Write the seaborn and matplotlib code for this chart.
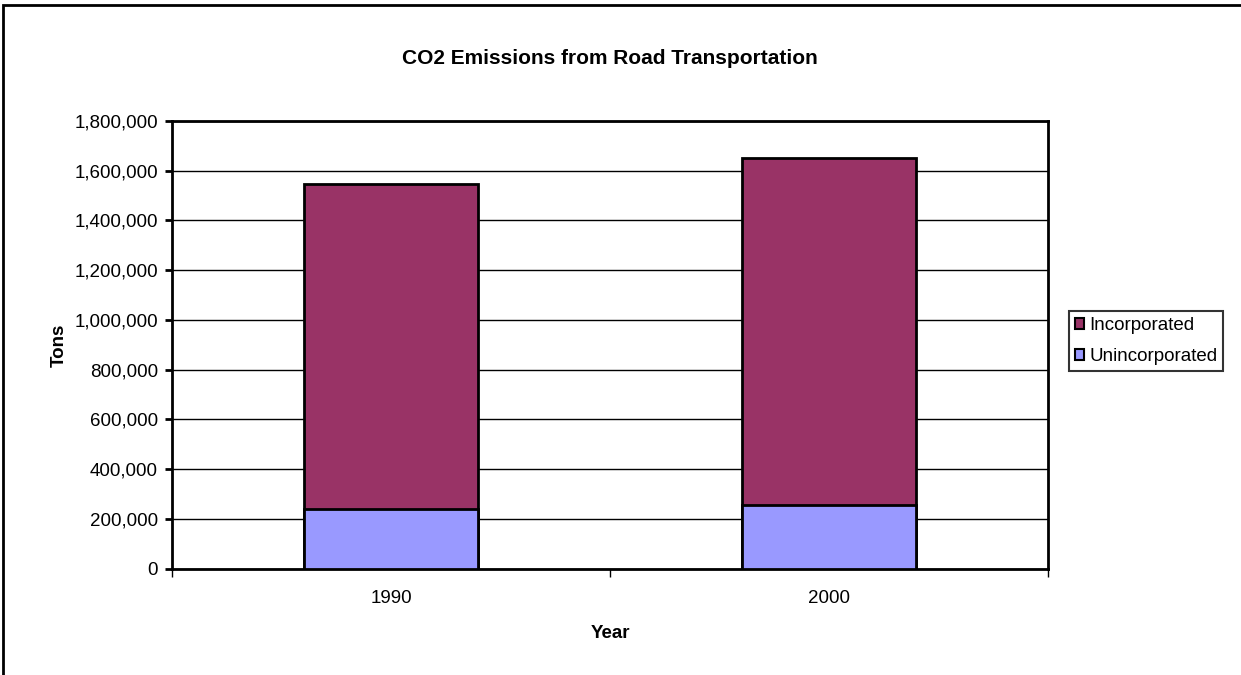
import matplotlib
matplotlib.use("Agg")
import matplotlib.pyplot as plt
import seaborn as sns
import pandas as pd
from matplotlib.patches import Rectangle
from matplotlib.ticker import FuncFormatter

# Data (tons of CO2)
years = ["1990", "2000"]
unincorporated = [240000, 257500]
incorporated = [1306000, 1392000]
series_names = ["Incorporated", "Unincorporated"]
colors = {"Incorporated": "#993366", "Unincorporated": "#9999FF"}

sns.set_theme(style="white")
plt.rcParams["font.family"] = ["Liberation Sans", "DejaVu Sans"]
plt.rcParams["text.color"] = "black"
plt.rcParams["axes.labelcolor"] = "black"
plt.rcParams["xtick.color"] = "black"
plt.rcParams["ytick.color"] = "black"

totals = [u + i for u, i in zip(unincorporated, incorporated)]
df_total = pd.DataFrame({"Year": years, "Tons": totals})
df_unin = pd.DataFrame({"Year": years, "Tons": unincorporated})

fig = plt.figure(figsize=(12.41, 6.75), dpi=100)
ax = fig.add_axes([172 / 1241, 1 - 568.7 / 675, (1048 - 172) / 1241, (568.7 - 121) / 675])

# Stacked bars: full height in the incorporated colour, base segment overlaid
sns.barplot(data=df_total, x="Year", y="Tons", color=colors["Incorporated"],
            width=0.395, edgecolor="black", linewidth=2, saturation=1, ax=ax, zorder=3)
sns.barplot(data=df_unin, x="Year", y="Tons", color=colors["Unincorporated"],
            width=0.395, edgecolor="black", linewidth=2, saturation=1, ax=ax, zorder=4)

ax.set_xlim(-0.5, 1.5)
ax.set_ylim(0, 1800000)
ax.set_yticks(range(0, 1800001, 200000))
ax.yaxis.set_major_formatter(FuncFormatter(lambda v, p: f"{int(v):,}"))
ax.grid(axis="y", color="black", linewidth=1, zorder=0)
ax.set_axisbelow(True)

for s in ax.spines.values():
    s.set_color("black")
    s.set_linewidth(2)

ax.tick_params(axis="y", which="major", left=True, length=5, width=2, color="black",
               labelsize=13.5, pad=5, labelcolor="black")
ax.set_xticks([0, 1])
ax.set_xticks([-0.5, 0.5, 1.5], minor=True)
ax.tick_params(axis="x", which="major", bottom=False, labelsize=13.5, pad=9, labelcolor="black")
ax.tick_params(axis="x", which="minor", bottom=True, length=6, width=1, color="black")

ax.set_xlabel("Year", fontsize=13.5, fontweight="bold", labelpad=13, color="black")
ax.set_ylabel("Tons", fontsize=13.5, fontweight="bold", labelpad=5, color="black")
fig.text((172 + 1048) / 2 / 1241, 1 - 58 / 675, "CO2 Emissions from Road Transportation",
         ha="center", va="center", fontsize=15, fontweight="bold", color="black")

handles = [Rectangle((0, 0), 1, 1, facecolor=colors[n], edgecolor="black", linewidth=1.5)
           for n in series_names]
leg = fig.legend(handles, series_names, loc="center left",
                 bbox_to_anchor=(1069 / 1241, 1 - 341 / 675), fontsize=13.5,
                 frameon=True, fancybox=False, edgecolor="black", handlelength=0.5,
                 handleheight=0.5, handletextpad=0.3, borderpad=0.3, labelspacing=0.75,
                 borderaxespad=0)
leg.get_frame().set_linewidth(1.5)
for t in leg.get_texts():
    t.set_color("black")

# Outer chart frame (top and left edges visible)
fig.add_artist(Rectangle((3 / 1241, -0.1), 1.2, 1 - 5 / 675 + 0.1, transform=fig.transFigure,
                         fill=False, edgecolor="black", linewidth=2))

fig.savefig("out.png", dpi=100)
